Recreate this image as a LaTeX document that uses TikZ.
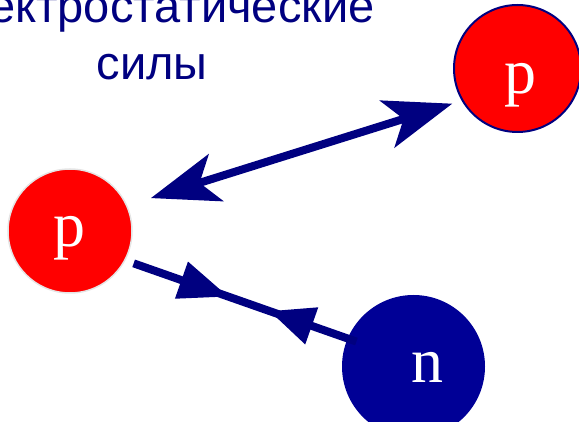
\documentclass[tikz,border=0pt]{standalone}
\usepackage{fontspec}
\setmainfont{Liberation Sans}
\newfontfamily\letterfont{Liberation Serif}
\usetikzlibrary{arrows.meta,decorations.markings}
\definecolor{darkblue}{RGB}{0,0,128}
\definecolor{nblue}{RGB}{0,0,150}
\tikzset{
	particle/.style={circle,inner sep=0pt,line width=1.5pt},
	letter/.style={text=white,font=\letterfont\fontsize{64}{64}\selectfont,inner sep=0pt},
	title/.style={text=darkblue,font=\fontsize{47}{57}\selectfont,inner sep=0pt,anchor=base},
	force/.style={draw=darkblue,line width=8pt},
}
\begin{document}
\begin{tikzpicture}[x=1pt,y=-1pt]
	\useasboundingbox (0,0) rectangle (579,422);
	\node[title](t2) at (152,80){силы};
	\node[title](t1) at ([yshift=57pt]t2.base){Электростатические};
	
	\node[particle,fill=red,draw=gray!20,minimum size=124pt](p1) at (70,231){};
	\node[particle,fill=red,draw=darkblue,line width=2pt,minimum size=127pt](p2) at (517.5,68.5){};
	\node[particle,fill=nblue,minimum size=143pt](n) at (413.5,366.5){};
	\node[letter](p1l) at (69,238.5){p};
	\node[letter](p2l) at (520,85){p};
	\node[letter](nl) at (427,367){n};
	
	\draw[force,{Stealth[length=68pt,width=49pt,inset=17pt]}-{Stealth[length=68pt,width=49pt,inset=17pt]},shorten <=24.7pt,shorten >=9.8pt] (p1.24)--(p2.210);
	\draw[force,shorten <=8.75pt,shorten >=-10pt,postaction={decorate},decoration={markings,
		mark=at position 109.4pt with {\arrow{Triangle[length=50pt,width=37pt]}},
		mark=at position 152.5pt with {\arrowreversed{Triangle[length=45pt,width=37pt]}}}] (p1.-28)--(n.157);
\end{tikzpicture}
\end{document}
